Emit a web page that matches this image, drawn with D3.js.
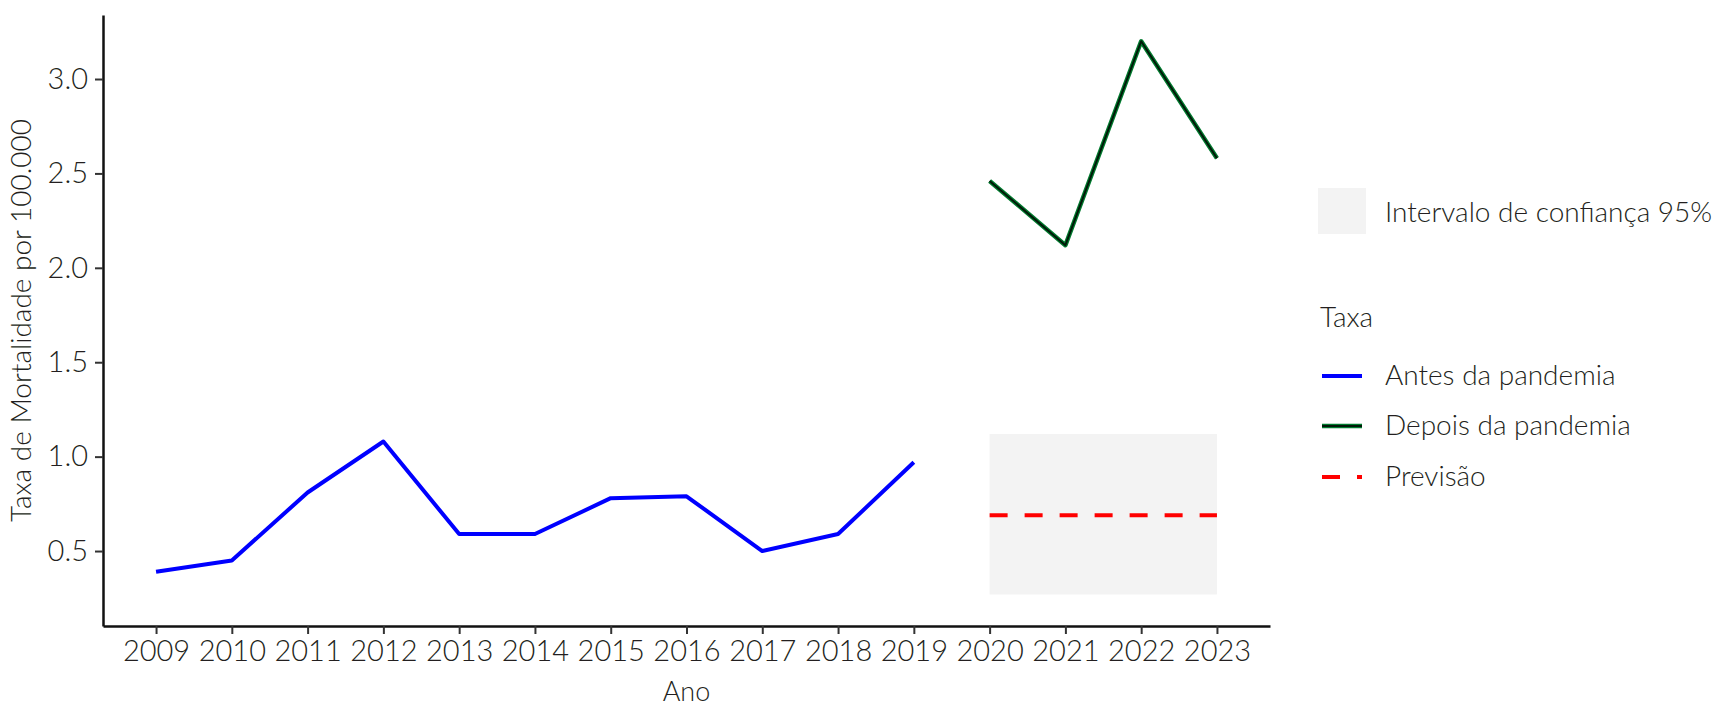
<!DOCTYPE html>
<html lang="pt">

<head>
    <meta charset="UTF-8">
    <title>Taxa de Mortalidade</title>
    <script src="https://d3js.org/d3.v7.min.js"></script>
    <style>
        body { margin: 0; background: #fff; }
        text { font-family: Lato, "Open Sans", sans-serif; font-weight: 300; fill: #231f20; }
    </style>
</head>

<body>
    <script>

        // dados
        var anos = [2009, 2010, 2011, 2012, 2013, 2014, 2015, 2016, 2017, 2018, 2019, 2020, 2021, 2022, 2023];
        var anosAntes = [2009, 2010, 2011, 2012, 2013, 2014, 2015, 2016, 2017, 2018, 2019];
        var taxaAntes = [0.39, 0.45, 0.81, 1.08, 0.59, 0.59, 0.78, 0.79, 0.50, 0.59, 0.97];
        var anosDepois = [2020, 2021, 2022, 2023];
        var taxaDepois = [2.46, 2.12, 3.20, 2.58];
        var previsao = 0.69;
        var icInferior = 0.27;
        var icSuperior = 1.12;
        var yTicks = [0.5, 1.0, 1.5, 2.0, 2.5, 3.0];

        var width = 1723, height = 709;
        var pLeft = 103, pRight = 1270, pTop = 15, pBottom = 626;

        var svg = d3.select("body")
            .append("svg")
            .attr("width", width)
            .attr("height", height);

        var x = d3.scaleLinear().domain([2008.3, 2023.7]).range([pLeft, pRight]);
        var y = d3.scaleLinear().domain([0.103, 3.339]).range([pBottom, pTop]);

        // intervalo de confiança
        svg.append("rect")
            .attr("x", x(2020))
            .attr("y", y(icSuperior))
            .attr("width", x(2023) - x(2020))
            .attr("height", y(icInferior) - y(icSuperior))
            .attr("fill", "#f3f3f3");

        var line = d3.line()
            .x(function (d) { return x(d[0]); })
            .y(function (d) { return y(d[1]); });

        var antes = anosAntes.map(function (a, i) { return [a, taxaAntes[i]]; });
        var depois = anosDepois.map(function (a, i) { return [a, taxaDepois[i]]; });

        svg.append("path")
            .attr("d", line([[2020, previsao], [2023, previsao]]))
            .attr("fill", "none")
            .attr("stroke", "#ff0000")
            .attr("stroke-width", 4)
            .attr("stroke-dasharray", "18,17");

        svg.append("path")
            .attr("d", line(antes))
            .attr("fill", "none")
            .attr("stroke", "#0000ff")
            .attr("stroke-width", 4)
            .attr("stroke-linejoin", "round");

        svg.append("path")
            .attr("d", line(depois))
            .attr("fill", "none")
            .attr("stroke", "#007a2e")
            .attr("stroke-width", 4.5)
            .attr("stroke-linejoin", "round");
        svg.append("path")
            .attr("d", line(depois))
            .attr("fill", "none")
            .attr("stroke", "#001a08")
            .attr("stroke-width", 2)
            .attr("stroke-linejoin", "round");

        // eixos
        var xAxis = svg.append("g")
            .attr("transform", "translate(0," + pBottom + ")")
            .call(d3.axisBottom(x).tickValues(anos).tickFormat(d3.format("d")).tickSize(8).tickSizeOuter(0).tickPadding(6));

        var yAxis = svg.append("g")
            .attr("transform", "translate(" + pLeft + ",0)")
            .call(d3.axisLeft(y).tickValues(yTicks).tickFormat(d3.format(".1f")).tickSize(8).tickSizeOuter(0).tickPadding(7));

        [xAxis, yAxis].forEach(function (g) {
            g.select(".domain").attr("stroke", "#111").attr("stroke-width", 2.5);
            g.selectAll(".tick line").attr("stroke", "#333").attr("stroke-width", 2);
            g.selectAll(".tick text")
                .attr("font-size", 29)
                .style("font-family", "Lato, sans-serif")
                .style("font-weight", 300)
                .attr("fill", "#231f20");
        });

        svg.append("text")
            .attr("x", (pLeft + pRight) / 2)
            .attr("y", 701)
            .attr("text-anchor", "middle")
            .attr("font-size", 27)
            .text("Ano");

        svg.append("text")
            .attr("transform", "translate(31," + (pTop + pBottom) / 2 + ") rotate(-90)")
            .attr("text-anchor", "middle")
            .attr("font-size", 28)
            .text("Taxa de Mortalidade por 100.000");

        // legenda
        var leg = svg.append("g");

        leg.append("rect")
            .attr("x", 1318).attr("y", 188)
            .attr("width", 48).attr("height", 46)
            .attr("fill", "#f3f3f3");
        leg.append("text")
            .attr("x", 1385).attr("y", 222)
            .attr("font-size", 28)
            .text("Intervalo de confiança 95%");

        leg.append("text")
            .attr("x", 1320).attr("y", 327)
            .attr("font-size", 28)
            .text("Taxa");

        var itens = [
            { nome: "Antes da pandemia", y: 376, cor: "#0000ff" },
            { nome: "Depois da pandemia", y: 426, cor: "#007a2e" },
            { nome: "Previsão", y: 477, cor: "#ff0000" }
        ];

        itens.forEach(function (it, i) {
            leg.append("line")
                .attr("x1", 1322).attr("x2", 1362)
                .attr("y1", it.y).attr("y2", it.y)
                .attr("stroke", it.cor)
                .attr("stroke-width", i == 1 ? 4.5 : 4)
                .attr("stroke-dasharray", i == 2 ? "18,17" : null);
            if (i == 1) {
                leg.append("line")
                    .attr("x1", 1322).attr("x2", 1362)
                    .attr("y1", it.y).attr("y2", it.y)
                    .attr("stroke", "#001a08")
                    .attr("stroke-width", 2);
            }
            leg.append("text")
                .attr("x", 1385).attr("y", it.y + 9)
                .attr("font-size", 28)
                .text(it.nome);
        });

    </script>
</body>

</html>
